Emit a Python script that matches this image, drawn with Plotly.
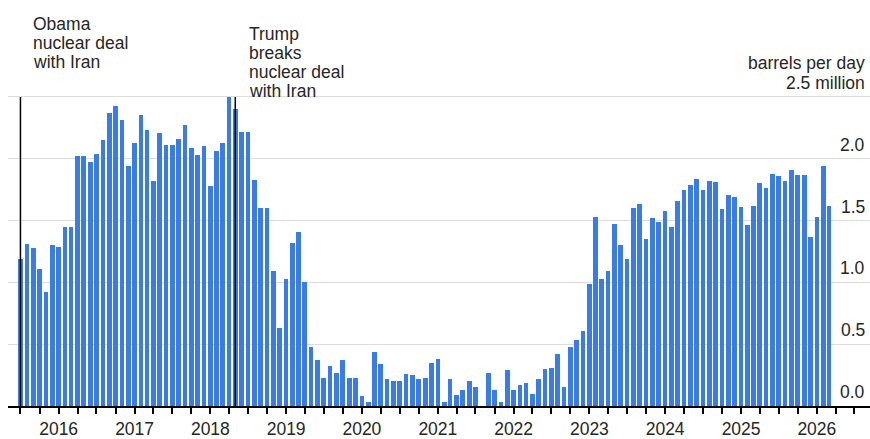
import pandas as pd
import plotly.graph_objects as go

# Monthly Iranian crude exports to China, million barrels per day
v2015 = [1.19, 1.31, 1.28, 1.11, 0.92, 1.30]  # Jul-Dec
v2016 = [1.29, 1.45, 1.45, 2.02, 2.02, 1.97, 2.04, 2.15, 2.37, 2.43, 2.31, 1.94]
v2017 = [2.13, 2.35, 2.23, 1.82, 2.21, 2.11, 2.11, 2.16, 2.27, 2.09, 2.03, 2.10]
v2018 = [1.78, 2.06, 2.13, 2.50, 2.40, 2.22, 2.22, 1.83, 1.60, 1.60, 1.09, 0.63]
v2019 = [1.03, 1.32, 1.41, 1.00, 0.48, 0.37, 0.23, 0.32, 0.27, 0.37, 0.23, 0.23]
v2020 = [0.08, 0.03, 0.44, 0.34, 0.22, 0.20, 0.20, 0.26, 0.25, 0.22, 0.23, 0.35]
v2021 = [0.38, 0.03, 0.22, 0.09, 0.13, 0.20, 0.15, 0.00, 0.27, 0.13, 0.03, 0.29]
v2022 = [0.13, 0.17, 0.19, 0.10, 0.22, 0.30, 0.31, 0.42, 0.15, 0.48, 0.53, 0.61]
v2023 = [0.99, 1.53, 1.03, 1.09, 1.47, 1.30, 1.19, 1.60, 1.63, 1.35, 1.52, 1.49]
v2024 = [1.58, 1.45, 1.66, 1.75, 1.79, 1.84, 1.75, 1.82, 1.81, 1.59, 1.71, 1.69]
v2025 = [1.61, 1.46, 1.62, 1.80, 1.76, 1.88, 1.86, 1.82, 1.91, 1.87, 1.87, 1.37]
v2026 = [1.53, 1.94, 1.62]  # Jan-Mar

first_month = "2015-07-01"
values = v2015 + v2016 + v2017 + v2018 + v2019 + v2020 + v2021 + v2022 + v2023 + v2024 + v2025 + v2026
months = pd.date_range(first_month, periods=len(values), freq="MS")

y_tickvals = [0, 0.5, 1.0, 1.5, 2.0, 2.5]
y_ticktext = ["0.0", "0.5", "1.0", "1.5", "2.0", "2.5 million"]
y_top_line = 2.5

events = [
    ("2015-07-01", ["Obama", "nuclear deal", "with Iran"]),
    ("2018-05-01", ["Trump", "breaks", "nuclear deal", "with Iran"]),
]

# ---- layout constants (pixels) ----
W, H = 870, 439
Y_MAX = 2.75              # room above the 2.5 gridline
PX_PER_UNIT = 124.4
MB = 31
PH = round(Y_MAX * PX_PER_UNIT)
ML, MR = 8, 0
MT = H - MB - PH
PW = W - ML - MR
FONT = "Liberation Sans, Arial, sans-serif"
FS = 17.5
TXT = "#262626"
BLUE = "#3a7bea"


def py(px):
    return (H - MB - px) / PH


def pxx(px):
    return (px - ML) / PW


month_ms = 30.44 * 24 * 3600 * 1000

fig = go.Figure()
fig.add_trace(go.Bar(
    x=months, y=values, width=0.74 * month_ms,
    marker=dict(color=BLUE, line=dict(width=0)),
    hoverinfo="x+y",
))

shapes = []
for d, _ in events:
    shapes.append(dict(type="line", xref="x", yref="y", x0=d, x1=d, y0=0, y1=y_top_line,
                       line=dict(color="black", width=1.5), layer="above"))

annotations = []
label_lefts = [32, 248]
label_first_mid = [24, 33.7]
line_gap = 19.2
for (d, lines), lx, fm in zip(events, label_lefts, label_first_mid):
    for i, t in enumerate(lines):
        annotations.append(dict(
            text=t, xref="paper", yref="paper", x=pxx(lx), y=py(fm + i * line_gap),
            xanchor="left", yanchor="middle", showarrow=False, borderpad=0,
            font=dict(family=FONT, size=FS, color=TXT)))

annotations.append(dict(
    text="barrels per day", xref="paper", yref="paper", x=pxx(866), y=py(62.5),
    xanchor="right", yanchor="middle", showarrow=False, borderpad=0,
    font=dict(family=FONT, size=FS, color=TXT)))

# y-axis tick labels sit just above their gridlines at the right edge
for v, t in zip(y_tickvals, y_ticktext):
    annotations.append(dict(
        text=t, xref="paper", yref="y", x=pxx(866), y=v, yshift=14,
        xanchor="right", yanchor="middle", showarrow=False, borderpad=0,
        font=dict(family=FONT, size=FS, color=TXT)))

fig.update_layout(
    width=W, height=H,
    margin=dict(l=ML, r=MR, t=MT, b=MB, pad=0),
    paper_bgcolor="white", plot_bgcolor="white",
    showlegend=False, bargap=0,
    font=dict(family=FONT, size=FS, color=TXT),
    shapes=shapes, annotations=annotations,
    xaxis=dict(
        type="date", range=["2015-05-02", "2026-09-14"],
        showgrid=False, zeroline=False,
        showline=True, linecolor="black", linewidth=1.5,
        ticks="outside", ticklen=6, tickwidth=1.5, tickcolor="black",
        tick0="2016-01-01", dtick="M12", tickformat="%Y",
        minor=dict(ticks="outside", ticklen=6, tickwidth=1.5, tickcolor="black",
                   dtick="M3", tick0="2016-01-01", showgrid=False),
        tickfont=dict(family=FONT, size=FS, color=TXT),
        fixedrange=True,
    ),
    yaxis=dict(
        range=[0, Y_MAX], side="right",
        tickmode="array", tickvals=y_tickvals,
        showticklabels=False, ticks="",
        showgrid=True, gridcolor="#dddddd", gridwidth=1,
        zeroline=False, showline=False,
        fixedrange=True,
    ),
)

fig.write_html(
    "out.html",
    config={"displayModeBar": False},
    post_script="document.body.style.margin='0px';document.body.style.overflow='hidden';",
)
